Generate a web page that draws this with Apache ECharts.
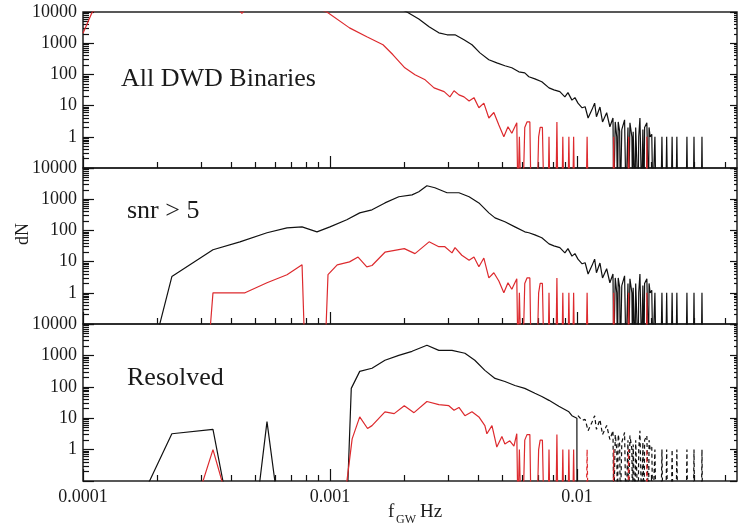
<!DOCTYPE html>
<html>
<head>
<meta charset="utf-8">
<script src="https://cdn.jsdelivr.net/npm/echarts@6/dist/echarts.min.js"></script>
<style>
  html, body { margin: 0; padding: 0; background: #ffffff; }
  #chart { width: 744px; height: 529px; }
</style>
</head>
<body>
<div id="chart"></div>
<script>
// ---------------- data (frequency Hz, count dN) ----------------
// Panel 1: All DWD Binaries (low-frequency part)
const allBlack = [[1.00e-4, 40000], [1.00e-3, 60000], [1.60e-3, 25000], [2.05e-3, 10000], [2.29e-3, 6000],
  [2.52e-3, 3360], [2.76e-3, 2150], [2.98e-3, 1860], [3.21e-3, 1860], [3.49e-3, 1290], [3.76e-3, 890],
  [4.05e-3, 490], [4.40e-3, 295], [4.74e-3, 235], [5.11e-3, 189], [5.45e-3, 163], [5.82e-3, 121], [6.15e-3, 112]];
const allRed = [[1.00e-4, 2100], [1.09e-4, 10000], [1.30e-4, 20000], [2.50e-4, 30000], [4.20e-4, 14000],
  [4.40e-4, 9000], [4.60e-4, 14000], [7.00e-4, 25000], [9.72e-4, 10000], [1.20e-3, 3100], [1.41e-3, 1600],
  [1.64e-3, 890], [1.80e-3, 425], [2.01e-3, 163], [2.21e-3, 97], [2.43e-3, 67], [2.64e-3, 37], [2.90e-3, 28],
  [3.06e-3, 19], [3.18e-3, 30], [3.33e-3, 22], [3.49e-3, 19], [3.66e-3, 14], [3.83e-3, 18], [4.01e-3, 8.5],
  [4.20e-3, 12], [4.40e-3, 4], [4.61e-3, 6]];

// Panel 2: snr > 5 (low-frequency part)
const snrBlack = [[1.90e-4, 0], [2.29e-4, 3.3], [3.36e-4, 24], [4.32e-4, 43], [5.56e-4, 84], [6.70e-4, 121],
  [7.71e-4, 130], [8.86e-4, 90], [1.00e-3, 130], [1.17e-3, 219], [1.32e-3, 365], [1.48e-3, 457], [1.67e-3, 760],
  [1.90e-3, 1200], [2.15e-3, 1380], [2.29e-3, 1730], [2.47e-3, 2690], [2.66e-3, 2330], [2.98e-3, 1610],
  [3.33e-3, 1610], [3.66e-3, 1200], [4.01e-3, 760], [4.40e-3, 365], [4.66e-3, 252], [5.11e-3, 189],
  [5.61e-3, 130], [6.15e-3, 90]];
const snrRed = [[3.21e-4, 0], [3.36e-4, 1], [4.53e-4, 1], [5.56e-4, 2.1], [6.70e-4, 3.8], [7.71e-4, 7.9],
  [7.92e-4, 0], [9.55e-4, 0], [9.82e-4, 3.8], [1.07e-3, 7.9], [1.20e-3, 9.8], [1.30e-3, 14], [1.41e-3, 6.8],
  [1.48e-3, 7.5], [1.67e-3, 20], [2.00e-3, 26], [2.21e-3, 18], [2.52e-3, 43], [2.76e-3, 30], [2.92e-3, 30],
  [3.12e-3, 19], [3.21e-3, 28], [3.42e-3, 16], [3.66e-3, 11], [3.83e-3, 14], [4.01e-3, 6.8], [4.20e-3, 13],
  [4.40e-3, 3], [4.61e-3, 4.4]];

// Panel 3: Resolved
const resBlack = [[1.62e-4, 0], [2.29e-4, 3.2], [3.36e-4, 4.4], [3.90e-4, 0], [5.02e-4, 0], [5.56e-4, 7.8],
  [6.22e-4, 0], [1.17e-3, 0], [1.22e-3, 89], [1.32e-3, 310], [1.48e-3, 390], [1.67e-3, 700], [1.90e-3, 1000],
  [2.15e-3, 1350], [2.47e-3, 2100], [2.76e-3, 1450], [3.12e-3, 1450], [3.52e-3, 1170], [3.86e-3, 700],
  [4.24e-3, 334], [4.66e-3, 185], [5.11e-3, 148], [5.61e-3, 110], [6.15e-3, 89], [6.76e-3, 62], [7.21e-3, 49],
  [7.71e-3, 37], [8.45e-3, 24], [9.28e-3, 16], [9.55e-3, 12], [1.00e-2, 10], [1.001e-2, 0]];
const resRed = [[2.79e-4, 0], [3.36e-4, 1], [3.97e-4, 0], [1.13e-3, 0], [1.23e-3, 2.2], [1.32e-3, 11],
  [1.42e-3, 4.7], [1.48e-3, 5.8], [1.67e-3, 16], [1.82e-3, 14], [2.00e-3, 25], [2.19e-3, 15], [2.47e-3, 34],
  [2.76e-3, 27], [3.03e-3, 25], [3.18e-3, 18], [3.33e-3, 22], [3.52e-3, 12], [3.76e-3, 16], [4.01e-3, 11],
  [4.24e-3, 5.8], [4.32e-3, 3.2], [4.53e-3, 5.8], [4.74e-3, 1.2], [4.97e-3, 2.6], [5.11e-3, 1.5],
  [5.35e-3, 1.9], [5.56e-3, 1.3], [5.71e-3, 3.2]];

// High-frequency part, common to the panels
const blackMid = [[6.39e-3, 84], [6.76e-3, 72], [7.21e-3, 58], [7.71e-3, 37], [8.07e-3, 32], [8.53e-3, 28],
  [8.94e-3, 19], [9.20e-3, 26], [9.55e-3, 15], [9.82e-3, 18]];
const blackHigh = [[1.01e-2, 12], [1.05e-2, 8.5], [1.08e-2, 9.2], [1.11e-2, 4], [1.15e-2, 7.3], [1.18e-2, 12],
  [1.20e-2, 4.4], [1.24e-2, 9], [1.27e-2, 3], [1.32e-2, 5.9], [1.36e-2, 2.1], [1.40e-2, 4], [1.41e-2, 0],
  [1.43e-2, 3], [1.45e-2, 1], [1.46e-2, 0], [1.47e-2, 3], [1.49e-2, 1.5], [1.50e-2, 0], [1.52e-2, 1.7],
  [1.56e-2, 3.5], [1.58e-2, 0], [1.61e-2, 2], [1.62e-2, 0], [1.64e-2, 2.8], [1.67e-2, 1], [1.68e-2, 0],
  [1.69e-2, 1.45], [1.72e-2, 0], [1.73e-2, 2], [1.75e-2, 2.1], [1.77e-2, 0], [1.78e-2, 1], [1.80e-2, 4],
  [1.83e-2, 0], [1.85e-2, 1.7], [1.87e-2, 0], [1.88e-2, 2], [1.92e-2, 2.8], [1.95e-2, 0], [1.96e-2, 2],
  [1.98e-2, 1], [2.01e-2, 1.2], [2.03e-2, 0],
  [2.05e-2, 0], [2.07e-2, 1], [2.09e-2, 0], [2.19e-2, 0], [2.21e-2, 1], [2.23e-2, 0],
  [2.29e-2, 0], [2.31e-2, 1], [2.33e-2, 0], [2.41e-2, 0], [2.43e-2, 1], [2.45e-2, 0],
  [2.52e-2, 0], [2.54e-2, 1], [2.56e-2, 0], [2.77e-2, 0], [2.79e-2, 1], [2.81e-2, 0],
  [2.96e-2, 0], [2.98e-2, 1], [3.00e-2, 0], [3.19e-2, 0], [3.21e-2, 1], [3.23e-2, 0]];
const redMid = [[4.83e-3, 2.4], [5.06e-3, 1], [5.26e-3, 2.1], [5.45e-3, 1.3], [5.71e-3, 2.8]];
const redTailLow = [[5.77e-3, 0], [5.85e-3, 1], [5.93e-3, 0], [6.05e-3, 0], [6.15e-3, 2], [6.28e-3, 3],
  [6.45e-3, 3], [6.52e-3, 0], [6.90e-3, 0], [7.00e-3, 1], [7.10e-3, 2], [7.25e-3, 2], [7.35e-3, 0],
  [7.65e-3, 0], [7.71e-3, 1], [7.78e-3, 0], [8.22e-3, 0], [8.30e-3, 3], [8.38e-3, 0], [8.70e-3, 0],
  [8.77e-3, 1], [8.85e-3, 0], [9.20e-3, 0], [9.28e-3, 1], [9.36e-3, 0], [9.62e-3, 0], [9.70e-3, 1],
  [9.78e-3, 0]];
const redTailHigh = [[1.09e-2, 0], [1.10e-2, 1], [1.11e-2, 0], [1.40e-2, 0], [1.41e-2, 1], [1.42e-2, 0],
  [1.61e-2, 0], [1.62e-2, 1], [1.63e-2, 0], [1.91e-2, 0], [1.92e-2, 1], [1.93e-2, 0]];

// Panel names
const panelNames = ['All DWD Binaries', 'snr > 5', 'Resolved'];

// Axis ticks and labels
const xLabelValues = [1e-4, 1e-3, 1e-2];
const xTickLabels = ['0.0001', '0.001', '0.01'];
const yLabelValues = [1, 10, 100, 1000, 10000];
const yTickLabels = ['1', '10', '100', '1000', '10000'];
const xMajorTicks = [1e-4, 1e-3, 1e-2];
const xMinorTicks = [2e-4, 3e-4, 4e-4, 5e-4, 6e-4, 7e-4, 8e-4, 9e-4, 2e-3, 3e-3, 4e-3, 5e-3, 6e-3, 7e-3, 8e-3, 9e-3, 2e-2, 3e-2, 4e-2];
const yMajorTicks = [0.1, 1, 10, 100, 1000, 10000];
const yMinorTicks = [0.2, 0.3, 0.4, 0.5, 0.6, 0.7, 0.8, 0.9, 2, 3, 4, 5, 6, 7, 8, 9, 20, 30, 40, 50, 60, 70, 80, 90,
  200, 300, 400, 500, 600, 700, 800, 900, 2000, 3000, 4000, 5000, 6000, 7000, 8000, 9000];

// ---------------- chart ----------------
const XMIN = 1e-4, XMAX = 0.0445, YMIN = 0.1, YMAX = 10000;
const ZERO_DRAW = 0.01; // empty bins: drawn below the visible range
const FONT = '"Liberation Serif", "Times New Roman", serif';
const TXT = '#1a1a1a';
const BLACK = '#111111', RED = '#dd2a2e', TICK = '#111111';

function labelFmt(values, labels) {
  return function (v) {
    for (let i = 0; i < values.length; i++) {
      if (Math.abs(Math.log10(v) - Math.log10(values[i])) < 1e-6) return labels[i];
    }
    return '';
  };
}
const pts = arr => arr.map(([f, n]) => [f, n > 0 ? n : ZERO_DRAW]);

const gridBoxes = [
  { top: 12, height: 156 },
  { top: 168, height: 156 },
  { top: 324, height: 157 }
];

const grid = gridBoxes.map(g => ({
  left: 83, right: 7, top: g.top, height: g.height,
  show: true, borderColor: '#222', borderWidth: 1.5, backgroundColor: 'transparent'
}));

function tickStyle(len, values) {
  return { show: true, inside: true, length: len, customValues: values,
    lineStyle: { color: TICK, width: 1.2 } };
}

// two x axes per panel: [2i] major ticks + labels, [2i+1] minor ticks
const xAxis = [];
gridBoxes.forEach((g, i) => {
  xAxis.push({
    type: 'log', logBase: 10, gridIndex: i, min: XMIN, max: XMAX, position: 'bottom',
    axisLine: { show: false }, splitLine: { show: false },
    axisTick: tickStyle(12, xMajorTicks),
    axisLabel: { show: i === 2, formatter: labelFmt(xLabelValues, xTickLabels), fontFamily: FONT,
      fontSize: 18, color: TXT, margin: 7 }
  });
  xAxis.push({
    type: 'log', logBase: 10, gridIndex: i, min: XMIN, max: XMAX, position: 'bottom', offset: 0,
    axisLine: { show: false }, splitLine: { show: false },
    axisTick: tickStyle(6, xMinorTicks), axisLabel: { show: false }
  });
});

// four y axes per panel: left major (+labels), left minor, right major, right minor
const yAxis = [];
gridBoxes.forEach((g, i) => {
  const base = { type: 'log', logBase: 10, gridIndex: i, min: YMIN, max: YMAX, offset: 0,
    axisLine: { show: false }, splitLine: { show: false } };
  yAxis.push(Object.assign({}, base, { position: 'left', axisTick: tickStyle(11, yMajorTicks),
    axisLabel: { show: true, formatter: labelFmt(yLabelValues, yTickLabels), fontFamily: FONT,
      fontSize: 18, color: TXT, margin: 6 } }));
  yAxis.push(Object.assign({}, base, { position: 'left', axisTick: tickStyle(6, yMinorTicks), axisLabel: { show: false } }));
  yAxis.push(Object.assign({}, base, { position: 'right', axisTick: tickStyle(7, yMajorTicks), axisLabel: { show: false } }));
  yAxis.push(Object.assign({}, base, { position: 'right', axisTick: tickStyle(3, yMinorTicks), axisLabel: { show: false } }));
});

function lineSeries(gi, data, color, dashed) {
  return {
    type: 'line', xAxisIndex: 2 * gi, yAxisIndex: 4 * gi, data: pts(data),
    symbol: 'none', showSymbol: false, clip: true, animation: false,
    lineStyle: { color: color, width: 1.2, type: dashed ? [4, 3] : 'solid' },
    z: 2
  };
}

const series = [];
series.push(lineSeries(0, allBlack.concat(blackMid, blackHigh), BLACK));
series.push(lineSeries(0, allRed.concat(redMid, redTailLow, redTailHigh), RED));
series.push(lineSeries(1, snrBlack.concat(blackMid, blackHigh), BLACK));
series.push(lineSeries(1, snrRed.concat(redMid, redTailLow, redTailHigh), RED));
series.push(lineSeries(2, resBlack, BLACK));
series.push(lineSeries(2, blackHigh, BLACK, true));
series.push(lineSeries(2, resRed.concat(redTailLow), RED));
series.push(lineSeries(2, redTailHigh, RED, true));

function txt(x, y, text, size) {
  return {
    type: 'text', x: x, y: y, silent: true,
    style: { x: 0, y: 0, text: text, font: size + 'px ' + FONT, fill: TXT,
      align: 'left', textAlign: 'left', verticalAlign: 'middle', textVerticalAlign: 'middle' }
  };
}

const graphic = [
  txt(121, 79, panelNames[0], 26),
  txt(127, 211, panelNames[1], 26),
  txt(127, 378, panelNames[2], 26),
  txt(388, 512, 'f', 19),
  txt(396, 520, 'GW', 12),
  txt(420, 512, 'Hz', 19),
  {
    type: 'text', x: 23, y: 234, rotation: Math.PI / 2, silent: true,
    style: { x: 0, y: 0, text: 'dN', font: '18px ' + FONT, fill: TXT,
      align: 'center', textAlign: 'center', verticalAlign: 'middle', textVerticalAlign: 'middle' }
  }
];

const chart = echarts.init(document.getElementById('chart'), null, { renderer: 'canvas' });
chart.setOption({
  animation: false,
  backgroundColor: '#ffffff',
  grid: grid, xAxis: xAxis, yAxis: yAxis, series: series, graphic: graphic
});
</script>
</body>
</html>
